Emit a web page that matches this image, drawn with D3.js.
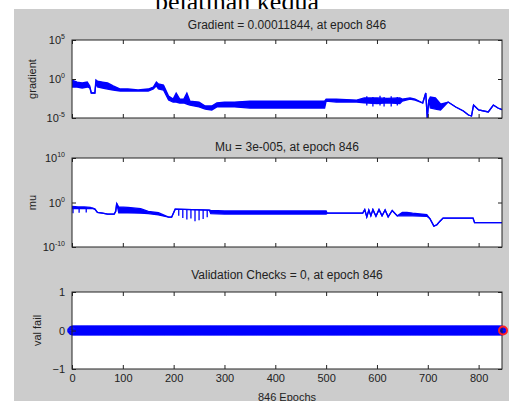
<!DOCTYPE html>
<html>
<head>
<meta charset="utf-8">
<script src="https://cdn.jsdelivr.net/npm/d3@7"></script>
<style>
    body { margin: 0; background: #fff; }
    svg { display: block; font-family: "Liberation Sans", Arial, sans-serif; }
</style>
</head>
<body>
<svg id="chart" width="509" height="401"></svg>
<script>
// training record: gradient, mu and validation checks per epoch
const lastEpoch = 846;
const epochTicks = [0, 100, 200, 300, 400, 500, 600, 700, 800];

const gradEpoch = [0, 10, 20, 30, 35, 38, 45, 47, 50, 60, 70, 81, 95, 110, 130, 150, 160, 166, 170, 180,
    190, 199, 205, 212, 220, 226, 232, 250, 262, 275, 285, 300, 320, 350, 400, 450, 497, 500, 520, 560,
    575, 600, 620, 645, 650, 665, 675, 690, 696, 699, 702, 705, 715, 725, 740, 755, 770, 780, 786, 790,
    800, 819, 829, 838, 846];
const gradHigh = [0.74, 0.41, 0.31, 0.41, 0.13, 0.016, 0.016, 0.74, 0.55, 0.41, 0.31, 0.13, 0.052, 0.052, 0.039, 0.052, 0.094, 0.41, 0.23, 0.17,
    6.6e-3, 2.7e-3, 0.016, 2.7e-3, 2.7e-3, 0.016, 1.5e-3, 1.1e-3, 3.5e-4, 3.5e-4, 8.4e-4, 1.1e-3, 1.1e-3, 1.5e-3, 1.5e-3, 1.5e-3, 1.5e-3, 2.7e-3, 2.7e-3, 2e-3,
    3.7e-3, 3.7e-3, 3.2e-3, 3.7e-3, 2.7e-3, 3.7e-3, 2.7e-3, 8.4e-4, 0.016, 1e-5, 2e-3, 4.9e-3, 3.7e-3, 6.2e-4, 1.1e-3, 2.6e-4, 7.9e-5, 2.4e-5, 1.8e-5, 4.6e-4,
    1.07e-4, 5.9e-5, 4.6e-4, 1.9e-4, 1.1844e-4];
const gradLow = [0.094, 0.094, 0.07, 0.094, 0.07, 0.016, 0.016, 0.31, 0.094, 0.07, 0.052, 0.039, 0.029, 0.029, 0.029, 0.029, 0.052, 0.13, 0.052, 0.039,
    2e-3, 1.1e-3, 1.1e-3, 8.4e-4, 8.4e-4, 6.2e-4, 4.6e-4, 2.6e-4, 1.4e-4, 1.07e-4, 2.6e-4, 2.6e-4, 2.6e-4, 1.9e-4, 1.9e-4, 1.9e-4, 1.9e-4, 1.5e-3, 1.1e-3, 1.1e-3,
    9e-4, 7e-4, 9e-4, 7e-4, 1.5e-3, 2.7e-3, 2e-3, 8.4e-4, 0.016, 1e-5, 2e-3, 1.9e-4, 1.4e-4, 1.07e-4, 1.1e-3, 2.6e-4, 7.9e-5, 2.4e-5, 1.8e-5, 4.6e-4,
    1.07e-4, 5.9e-5, 4.6e-4, 1.9e-4, 1.1844e-4];
// single-epoch jumps of the gradient inside the noisy stretch
const gradSpikeEpoch = [580, 592, 606, 614, 628, 640];
const gradSpikeTop = [6e-3, 5e-3, 7e-3, 5e-3, 6e-3, 5e-3];
const gradSpikeBottom = [4e-4, 3e-4, 4e-4, 3e-4, 3e-4, 4e-4];

const muEpoch = [0, 12, 24, 36, 41, 45, 50, 60, 70, 83, 86, 88, 92, 110, 135, 150, 170, 190, 196, 203,
    270, 273, 300, 400, 500, 502, 572, 576, 580, 584, 588, 592, 598, 604, 610, 616, 622, 630, 640, 650,
    659, 670, 698, 704, 712, 718, 724, 730, 789, 792, 846];
const muHigh = [0.126, 0.1, 0.1, 0.079, 0.05, 0.032, 6.3e-3, 4e-3, 2.5e-3, 2.5e-3, 0.01, 0.63, 0.1, 0.079, 0.04, 0.01, 5e-3, 5e-4, 5e-4, 0.032,
    0.02, 0.016, 0.0126, 0.0126, 0.0126, 4e-3, 4e-3, 0.025, 6e-4, 0.02, 1e-3, 0.025, 8e-4, 0.025, 1e-3, 0.02, 6e-4, 0.016, 1e-3, 6.3e-3,
    6.3e-3, 4e-3, 2e-3, 2.5e-4, 5e-6, 1e-5, 6.3e-5, 3.2e-4, 3.2e-4, 3e-5, 3e-5];
const muLow = [0.04, 0.04, 0.05, 0.04, 0.05, 0.032, 6.3e-3, 4e-3, 2.5e-3, 2.5e-3, 0.01, 0.63, 5e-3, 5e-3, 4e-3, 3.2e-3, 1.6e-3, 5e-4, 5e-4, 0.032,
    0.02, 3.2e-3, 2.5e-3, 2.5e-3, 2.5e-3, 4e-3, 4e-3, 0.025, 6e-4, 0.02, 1e-3, 0.025, 8e-4, 0.025, 1e-3, 0.02, 6e-4, 0.016, 1e-3, 1e-3,
    1e-3, 1e-3, 7.9e-4, 2.5e-4, 5e-6, 1e-5, 6.3e-5, 3.2e-4, 3.2e-4, 3e-5, 3e-5];
// short drops of mu between steps
const muSpikeEpoch = [2, 14, 28, 210, 218, 226, 234, 242, 250, 258, 266];
const muSpikeTop = [0.1, 0.08, 0.08, 0.025, 0.025, 0.025, 0.025, 0.02, 0.02, 0.02, 0.02];
const muSpikeBottom = [4e-3, 5e-3, 6e-3, 1e-3, 3.2e-4, 1.6e-4, 2.5e-4, 6e-5, 1e-4, 2e-4, 5e-4];

const valFailFrom = [0];
const valFailTo = [846];
const valFailChecks = [0];
const bestEpoch = 846;

const titles = ["Gradient = 0.00011844, at epoch 846", "Mu = 3e-005, at epoch 846", "Validation Checks = 0, at epoch 846"];
const yLabels = ["gradient", "mu", "val fail"];
const gradTicks = [1e-5, 1, 1e5];
const muTicks = [1e-10, 1, 1e10];
const valTicks = [-1, 0, 1];

const svg = d3.select("#chart");

svg.append("text")
    .attr("x", 237).attr("y", 10)
    .attr("text-anchor", "middle")
    .style("font-family", "'Liberation Serif', 'Times New Roman', serif")
    .style("font-size", "26px")
    .text("pelatihan kedua");

svg.append("rect")
    .attr("x", 14).attr("y", 9)
    .attr("width", 495).attr("height", 392)
    .attr("fill", "#cccccc");

const x = d3.scaleLinear().domain([0, lastEpoch]).range([72, 502]);

const panels = [
    { top: 40, bottom: 118, titleY: 29, y: d3.scaleLog().domain([1e-5, 1e5]), ticks: gradTicks, log: true },
    { top: 158, bottom: 247, titleY: 151, y: d3.scaleLog().domain([1e-10, 1e10]), ticks: muTicks, log: true },
    { top: 292, bottom: 369, titleY: 279, y: d3.scaleLinear().domain([-1, 1]), ticks: valTicks, log: false }
];

panels.forEach((p, i) => {
    p.y.range([p.bottom, p.top]);
    const g = svg.append("g");

    g.append("rect")
        .attr("x", x.range()[0]).attr("y", p.top)
        .attr("width", x.range()[1] - x.range()[0]).attr("height", p.bottom - p.top)
        .attr("fill", "#fff");

    g.append("clipPath").attr("id", "clip" + i)
        .append("rect")
        .attr("x", x.range()[0] - 6).attr("y", p.top)
        .attr("width", x.range()[1] - x.range()[0] + 12).attr("height", p.bottom - p.top);

    p.plot = g.append("g").attr("clip-path", `url(#clip${i})`);

    // axes, ticks pointing inward
    const bottom = g.append("g").attr("transform", `translate(0,${p.bottom})`)
        .call(d3.axisBottom(x).tickValues(epochTicks).tickSize(-4).tickPadding(5)
            .tickFormat(i == 2 ? d3.format("d") : ""));
    const top = g.append("g").attr("transform", `translate(0,${p.top})`)
        .call(d3.axisTop(x).tickValues(epochTicks).tickSize(-4).tickFormat(""));
    const left = g.append("g").attr("transform", `translate(${x.range()[0]},0)`)
        .call(d3.axisLeft(p.y).tickValues(p.ticks).tickSize(-4).tickPadding(7)
            .tickFormat(p.log ? "" : d3.format("d")));
    const right = g.append("g").attr("transform", `translate(${x.range()[1]},0)`)
        .call(d3.axisRight(p.y).tickValues(p.ticks).tickSize(-4).tickFormat(""));

    [bottom, top, left, right].forEach(a => {
        a.select(".domain").remove();
        a.selectAll("line").attr("stroke", "#222");
        a.selectAll("text").attr("font-size", 11).attr("fill", "#222").attr("font-family", null);
    });

    if (p.log) {
        left.selectAll(".tick text").each(function (d) {
            const t = d3.select(this).text(null);
            t.append("tspan").text("10");
            t.append("tspan").attr("dy", -5).attr("font-size", 7).text(Math.round(Math.log10(d)));
        });
    }

    g.append("rect")
        .attr("x", x.range()[0]).attr("y", p.top)
        .attr("width", x.range()[1] - x.range()[0]).attr("height", p.bottom - p.top)
        .attr("fill", "none").attr("stroke", "#222").attr("stroke-width", 1);

    g.append("text")
        .attr("x", (x.range()[0] + x.range()[1]) / 2).attr("y", p.titleY)
        .attr("text-anchor", "middle").attr("font-size", 12).attr("fill", "#222")
        .text(titles[i]);

    g.append("text")
        .attr("transform", `translate(${i == 2 ? 41 : 36},${(p.top + p.bottom) / 2}) rotate(-90)`)
        .attr("text-anchor", "middle").attr("font-size", 11).attr("fill", "#222")
        .text(yLabels[i]);
});

// band + edge lines for a noisy series
function drawBand(p, epochs, high, low) {
    const rows = epochs.map((e, k) => ({ e, hi: high[k], lo: low[k] }));
    p.plot.append("path").datum(rows)
        .attr("fill", "#0000ff")
        .attr("d", d3.area().x(d => x(d.e)).y0(d => p.y(d.lo)).y1(d => p.y(d.hi)));
    ["hi", "lo"].forEach(key => {
        p.plot.append("path").datum(rows)
            .attr("fill", "none").attr("stroke", "#0000ff").attr("stroke-width", 1.3)
            .attr("d", d3.line().x(d => x(d.e)).y(d => p.y(d[key])));
    });
}

function drawSpikes(p, epochs, tops, bottoms) {
    p.plot.append("g").selectAll("line")
        .data(epochs)
        .enter().append("line")
        .attr("x1", d => x(d)).attr("x2", d => x(d))
        .attr("y1", (d, k) => p.y(tops[k]))
        .attr("y2", (d, k) => p.y(bottoms[k]))
        .attr("stroke", "#0000ff").attr("stroke-width", 1.3);
}

drawBand(panels[0], gradEpoch, gradHigh, gradLow);
drawSpikes(panels[0], gradSpikeEpoch, gradSpikeTop, gradSpikeBottom);
drawBand(panels[1], muEpoch, muHigh, muLow);
drawSpikes(panels[1], muSpikeEpoch, muSpikeTop, muSpikeBottom);

// validation checks, one marker per epoch
const valRows = [];
valFailFrom.forEach((from, k) => {
    d3.range(from, valFailTo[k] + 1).forEach(e => valRows.push({ e, v: valFailChecks[k] }));
});
const pv = panels[2];
pv.plot.append("path").datum(valRows)
    .attr("fill", "none").attr("stroke", "#0000ff").attr("stroke-width", 1)
    .attr("d", d3.line().x(d => x(d.e)).y(d => pv.y(d.v)));
pv.plot.selectAll("circle")
    .data(valRows)
    .enter().append("circle")
    .attr("cx", d => x(d.e)).attr("cy", d => pv.y(d.v))
    .attr("r", 4.3)
    .attr("fill", "none").attr("stroke", "#0000ff").attr("stroke-width", 1);

svg.append("circle")
    .attr("cx", x(bestEpoch) + 1).attr("cy", pv.y(valFailChecks[0]))
    .attr("r", 4)
    .attr("fill", "none").attr("stroke", "#ff2020").attr("stroke-width", 2);

svg.append("text")
    .attr("x", 287).attr("y", 401)
    .attr("text-anchor", "middle").attr("font-size", 11).attr("fill", "#222")
    .text("846 Epochs");
</script>
</body>
</html>
